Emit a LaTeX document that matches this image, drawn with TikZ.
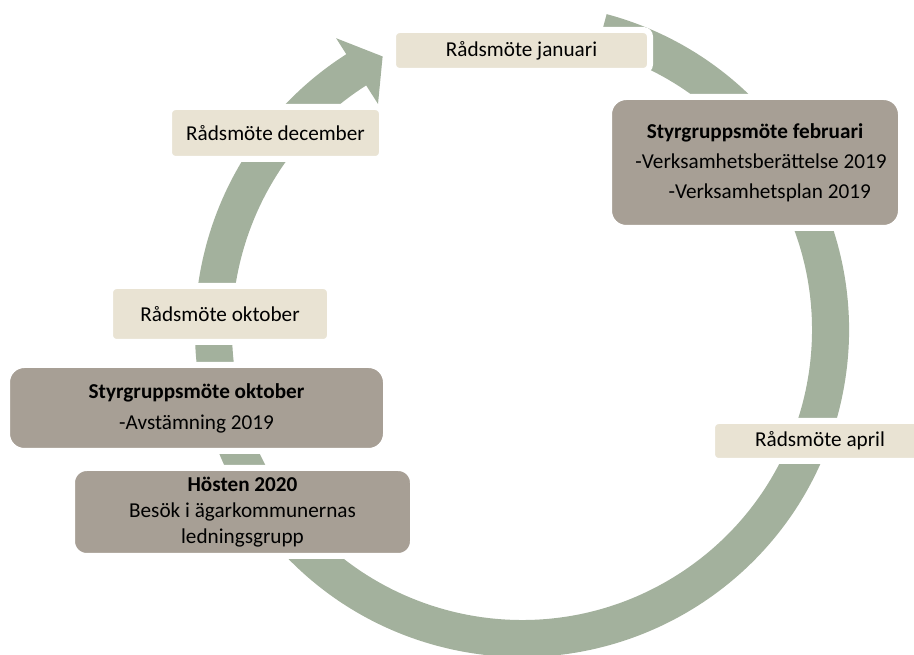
\documentclass[tikz,border=0pt]{standalone}
\usepackage{fontspec}
\setmainfont{Carlito}
\definecolor{ringc}{RGB}{163,177,157}
\definecolor{creamc}{RGB}{233,227,211}
\definecolor{greyc}{RGB}{167,159,149}
\begin{document}
\begin{tikzpicture}[x=0.75pt,y=0.75pt,
  lightbox/.style={fill=creamc, draw=white, line width=4.5pt, rounded corners=5pt,
    inner sep=0pt, align=center, text=black, font=\fontsize{15.9}{22}\selectfont},
  darkbox/.style={fill=greyc, draw=white, line width=4.5pt, rounded corners=13pt,
    inner sep=0pt, align=center, text=black}
]
\useasboundingbox (0,0) rectangle (914,-655);
\clip (0,0) rectangle (914,-655);
% circular arrow
\begin{scope}[shift={(522,-330)}]
  \fill[ringc] (75:327) arc[start angle=75, end angle=-237.5, radius=327]
    -- (122.5:346) -- (117:307) -- (122.5:268) -- (122.5:290)
    arc[start angle=-237.5, end angle=75, radius=290] -- cycle;
\end{scope}
% boxes
\node[lightbox, minimum width=192.75pt, minimum height=30.75pt] (jan) at (521.5,-50.5) {Rådsmöte januari};
\node[lightbox, minimum width=159.75pt, minimum height=39pt] (dec) at (275.5,-133) {Rådsmöte december};
\node[darkbox, minimum width=219pt, minimum height=98.25pt, font=\fontsize{15.9}{22.5}\selectfont] (feb) at (755,-162.5)
  {\textbf{Styrgruppsmöte februari}\\\hspace*{9pt}-Verksamhetsberättelse 2019\\\hspace*{22pt}-Verksamhetsplan 2019};
\node[lightbox, minimum width=165pt, minimum height=42pt] (okt) at (220,-314) {Rådsmöte oktober};
\node[darkbox, minimum width=284.25pt, minimum height=64.5pt, font=\fontsize{15.9}{23.25}\selectfont] (styrokt) at (196.5,-408)
  {\textbf{Styrgruppsmöte oktober}\\-Avstämning 2019};
\node[darkbox, rounded corners=11pt, minimum width=255.75pt, minimum height=66pt, font=\fontsize{15.9}{19.5}\selectfont] (host) at (242.5,-512)
  {\textbf{Hösten 2020}\\Besök i ägarkommunernas\\ledningsgrupp};
\node[lightbox, minimum width=162pt, minimum height=30pt] (apr) at (820,-441) {Rådsmöte april};
\end{tikzpicture}
\end{document}
